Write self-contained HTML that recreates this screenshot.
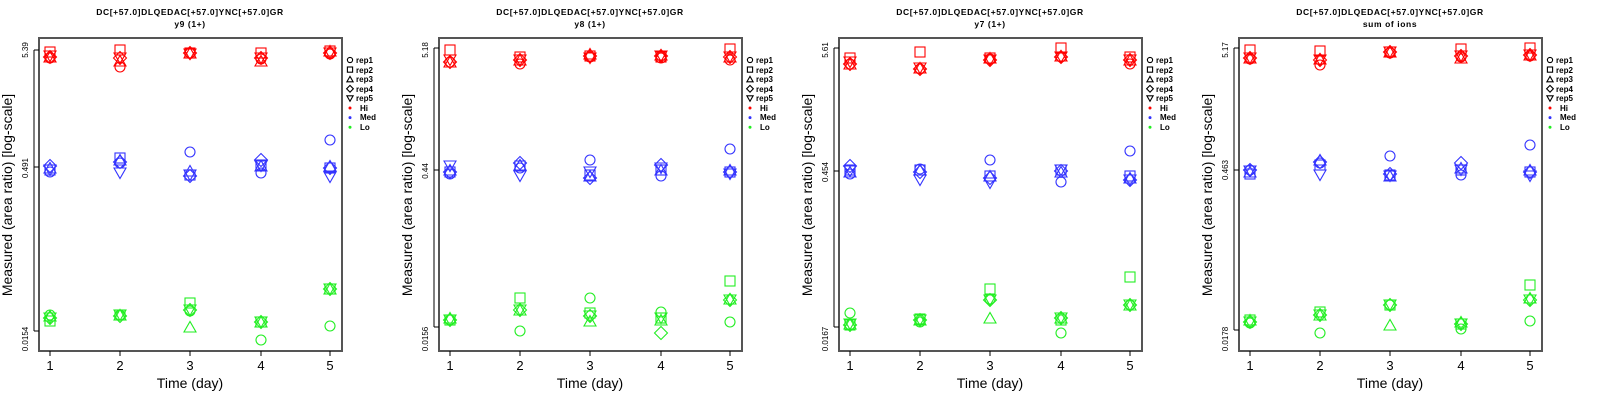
<!DOCTYPE html><html><head><style>body{margin:0;background:#fff}svg{display:block}text{font-family:"Liberation Sans",sans-serif}</style></head><body>
<svg id="s" width="1600" height="400" xmlns="http://www.w3.org/2000/svg">
<g transform="translate(0,0)"><text x="190" y="15" font-size="8.5" font-weight="bold" text-anchor="middle" letter-spacing="0.6">DC[+57.0]DLQEDAC[+57.0]YNC[+57.0]GR</text><text x="190" y="27" font-size="8.5" font-weight="bold" text-anchor="middle" letter-spacing="0.6">y9 (1+)</text>
<text transform="translate(28,50) rotate(-90)" font-size="8" text-anchor="middle">5.39</text><text transform="translate(28,168) rotate(-90)" font-size="8" text-anchor="middle">0.491</text><text transform="translate(28,339) rotate(-90)" font-size="8" text-anchor="middle">0.0154</text></g>
<g transform="translate(400,0)"><text x="190" y="15" font-size="8.5" font-weight="bold" text-anchor="middle" letter-spacing="0.6">DC[+57.0]DLQEDAC[+57.0]YNC[+57.0]GR</text><text x="190" y="27" font-size="8.5" font-weight="bold" text-anchor="middle" letter-spacing="0.6">y8 (1+)</text>
<text transform="translate(28,50) rotate(-90)" font-size="8" text-anchor="middle">5.18</text><text transform="translate(28,171) rotate(-90)" font-size="8" text-anchor="middle">0.44</text><text transform="translate(28,339) rotate(-90)" font-size="8" text-anchor="middle">0.0156</text></g>
<g transform="translate(800,0)"><text x="190" y="15" font-size="8.5" font-weight="bold" text-anchor="middle" letter-spacing="0.6">DC[+57.0]DLQEDAC[+57.0]YNC[+57.0]GR</text><text x="190" y="27" font-size="8.5" font-weight="bold" text-anchor="middle" letter-spacing="0.6">y7 (1+)</text>
<text transform="translate(28,50) rotate(-90)" font-size="8" text-anchor="middle">5.61</text><text transform="translate(28,172) rotate(-90)" font-size="8" text-anchor="middle">0.454</text><text transform="translate(28,339) rotate(-90)" font-size="8" text-anchor="middle">0.0167</text></g>
<g transform="translate(1200,0)"><text x="190" y="15" font-size="8.5" font-weight="bold" text-anchor="middle" letter-spacing="0.6">DC[+57.0]DLQEDAC[+57.0]YNC[+57.0]GR</text><text x="190" y="27" font-size="8.5" font-weight="bold" text-anchor="middle" letter-spacing="0.6">sum of ions</text>
<text transform="translate(28,50) rotate(-90)" font-size="8" text-anchor="middle">5.17</text><text transform="translate(28,170) rotate(-90)" font-size="8" text-anchor="middle">0.463</text><text transform="translate(28,339) rotate(-90)" font-size="8" text-anchor="middle">0.0178</text></g>
<g><text transform="translate(12,195) rotate(-90)" font-size="14" text-anchor="middle">Measured (area ratio) [log-scale]</text><text x="190" y="388" font-size="14" text-anchor="middle">Time (day)</text><text x="50" y="370" font-size="13" text-anchor="middle">1</text><text x="120" y="370" font-size="13" text-anchor="middle">2</text><text x="190" y="370" font-size="13" text-anchor="middle">3</text><text x="261" y="370" font-size="13" text-anchor="middle">4</text><text x="330" y="370" font-size="13" text-anchor="middle">5</text><g font-size="8" font-weight="bold"><text x="356" y="63">rep1</text><text x="356" y="73">rep2</text><text x="356" y="82">rep3</text><text x="356" y="92">rep4</text><text x="356" y="101">rep5</text><text x="360" y="111">Hi</text><text x="360" y="120">Med</text><text x="360" y="130">Lo</text></g></g>
<g transform="translate(400,0)"><text transform="translate(12,195) rotate(-90)" font-size="14" text-anchor="middle">Measured (area ratio) [log-scale]</text><text x="190" y="388" font-size="14" text-anchor="middle">Time (day)</text><text x="50" y="370" font-size="13" text-anchor="middle">1</text><text x="120" y="370" font-size="13" text-anchor="middle">2</text><text x="190" y="370" font-size="13" text-anchor="middle">3</text><text x="261" y="370" font-size="13" text-anchor="middle">4</text><text x="330" y="370" font-size="13" text-anchor="middle">5</text><g font-size="8" font-weight="bold"><text x="356" y="63">rep1</text><text x="356" y="73">rep2</text><text x="356" y="82">rep3</text><text x="356" y="92">rep4</text><text x="356" y="101">rep5</text><text x="360" y="111">Hi</text><text x="360" y="120">Med</text><text x="360" y="130">Lo</text></g></g>
<g transform="translate(800,0)"><text transform="translate(12,195) rotate(-90)" font-size="14" text-anchor="middle">Measured (area ratio) [log-scale]</text><text x="190" y="388" font-size="14" text-anchor="middle">Time (day)</text><text x="50" y="370" font-size="13" text-anchor="middle">1</text><text x="120" y="370" font-size="13" text-anchor="middle">2</text><text x="190" y="370" font-size="13" text-anchor="middle">3</text><text x="261" y="370" font-size="13" text-anchor="middle">4</text><text x="330" y="370" font-size="13" text-anchor="middle">5</text><g font-size="8" font-weight="bold"><text x="356" y="63">rep1</text><text x="356" y="73">rep2</text><text x="356" y="82">rep3</text><text x="356" y="92">rep4</text><text x="356" y="101">rep5</text><text x="360" y="111">Hi</text><text x="360" y="120">Med</text><text x="360" y="130">Lo</text></g></g>
<g transform="translate(1200,0)"><text transform="translate(12,195) rotate(-90)" font-size="14" text-anchor="middle">Measured (area ratio) [log-scale]</text><text x="190" y="388" font-size="14" text-anchor="middle">Time (day)</text><text x="50" y="370" font-size="13" text-anchor="middle">1</text><text x="120" y="370" font-size="13" text-anchor="middle">2</text><text x="190" y="370" font-size="13" text-anchor="middle">3</text><text x="261" y="370" font-size="13" text-anchor="middle">4</text><text x="330" y="370" font-size="13" text-anchor="middle">5</text><g font-size="8" font-weight="bold"><text x="356" y="63">rep1</text><text x="356" y="73">rep2</text><text x="356" y="82">rep3</text><text x="356" y="92">rep4</text><text x="356" y="101">rep5</text><text x="360" y="111">Hi</text><text x="360" y="120">Med</text><text x="360" y="130">Lo</text></g></g>
</svg>
<script>
var S=document.getElementById('s'),NS='http://www.w3.org/2000/svg';
function el(t,a,p){var e=document.createElementNS(NS,t);for(var k in a)e.setAttribute(k,a[k]);(p||S).appendChild(e);return e}
var X=[50,120,190,261,330],R='#ff0000',B='#3333ff',G='#22ee22';
function mk(g,s,x,y,c,r){r=r||5;var a={fill:'none',stroke:c,'stroke-width':1.1};
 if(s==0){a.cx=x;a.cy=y;a.r=r;el('circle',a,g)}
 else if(s==1){a.x=x-r;a.y=y-r;a.width=2*r;a.height=2*r;el('rect',a,g)}
 else if(s==2){a.points=(x-r*1.2)+','+(y+r)+' '+(x+r*1.2)+','+(y+r)+' '+x+','+(y-r*1.1);el('polygon',a,g)}
 else if(s==3){a.points=(x-r*1.3)+','+y+' '+x+','+(y-r*1.3)+' '+(x+r*1.3)+','+y+' '+x+','+(y+r*1.3);el('polygon',a,g)}
 else {a.points=(x-r*1.2)+','+(y-r)+' '+(x+r*1.2)+','+(y-r)+' '+x+','+(y+r*1.1);el('polygon',a,g)}}
var D=[
[[[58,52,57,57,56],[172,170,168,166,170],[315,321,316,318,318]],[[67,50,61,58,58],[163,158,160,162,173],[315,315,315,316,315]],[[53,53,53,53,54],[152,175,171,176,175],[311,303,327,310,310]],[[59,53,61,58,58],[173,165,166,160,166],[340,322,322,322,322]],[[54,51,51,53,53],[140,168,166,168,177],[326,289,289,289,289]]],
[[[62,50,62,62,60],[174,172,170,172,166],[320,320,318,320,320]],[[64,57,60,60,60],[168,166,165,163,176],[331,298,310,310,310]],[[57,56,54,56,58],[160,175,176,178,172],[298,313,321,316,316]],[[58,57,55,56,56],[176,170,170,165,168],[312,318,320,333,318]],[[60,49,57,57,57],[149,172,170,172,174],[322,281,299,300,300]]],
[[[64,58,64,64,62],[174,170,172,166,171],[313,325,324,325,324]],[[69,52,68,69,68],[169,170,170,172,180],[322,319,320,320,320]],[[59,58,58,60,60],[160,176,176,178,183],[299,289,318,300,300]],[[57,48,56,57,57],[182,170,172,171,170],[333,320,318,318,318]],[[64,57,60,60,60],[151,176,178,180,180],[305,277,305,305,305]]],
[[[59,50,58,58,58],[170,174,172,170,171],[323,320,320,322,322]],[[65,51,59,60,60],[163,165,160,162,175],[333,312,315,315,315]],[[53,52,52,52,52],[156,175,176,174,176],[305,305,325,305,305]],[[57,49,58,56,56],[175,170,168,163,170],[329,324,322,324,324]],[[56,48,55,55,55],[145,172,170,172,176],[321,285,298,300,300]]]];
var off=[0,400,800,1200],ext=[[50,167,331],[48,170,327],[48,171,327],[48,170,330]];
for(var p=0;p<4;p++){var g=el('g',{transform:'translate('+off[p]+',0)'});
 el('rect',{x:39,y:38,width:303,height:313,fill:'none',stroke:'#555','stroke-width':2},g);
 X.forEach(function(x){el('line',{x1:x,x2:x,y1:351,y2:356,stroke:'#000'},g)});
 el('line',{x1:34,x2:34,y1:ext[p][0],y2:ext[p][2],stroke:'#000'},g);
 ext[p].forEach(function(y){el('line',{x1:34,x2:39,y1:y,y2:y,stroke:'#000'},g)});
 for(var d=0;d<5;d++){var cs=[R,B,G];for(var c=0;c<3;c++)for(var s=0;s<5;s++)mk(g,s,X[d],D[p][d][c][s],cs[c])}
 for(var s=0;s<5;s++)mk(g,s,350,60+s*9.6,'#000',2.6);
 [R,B,G].forEach(function(c,i){el('circle',{cx:350,cy:108+i*9.6,r:1.5,fill:c},g)});
}
</script>
</body></html>
